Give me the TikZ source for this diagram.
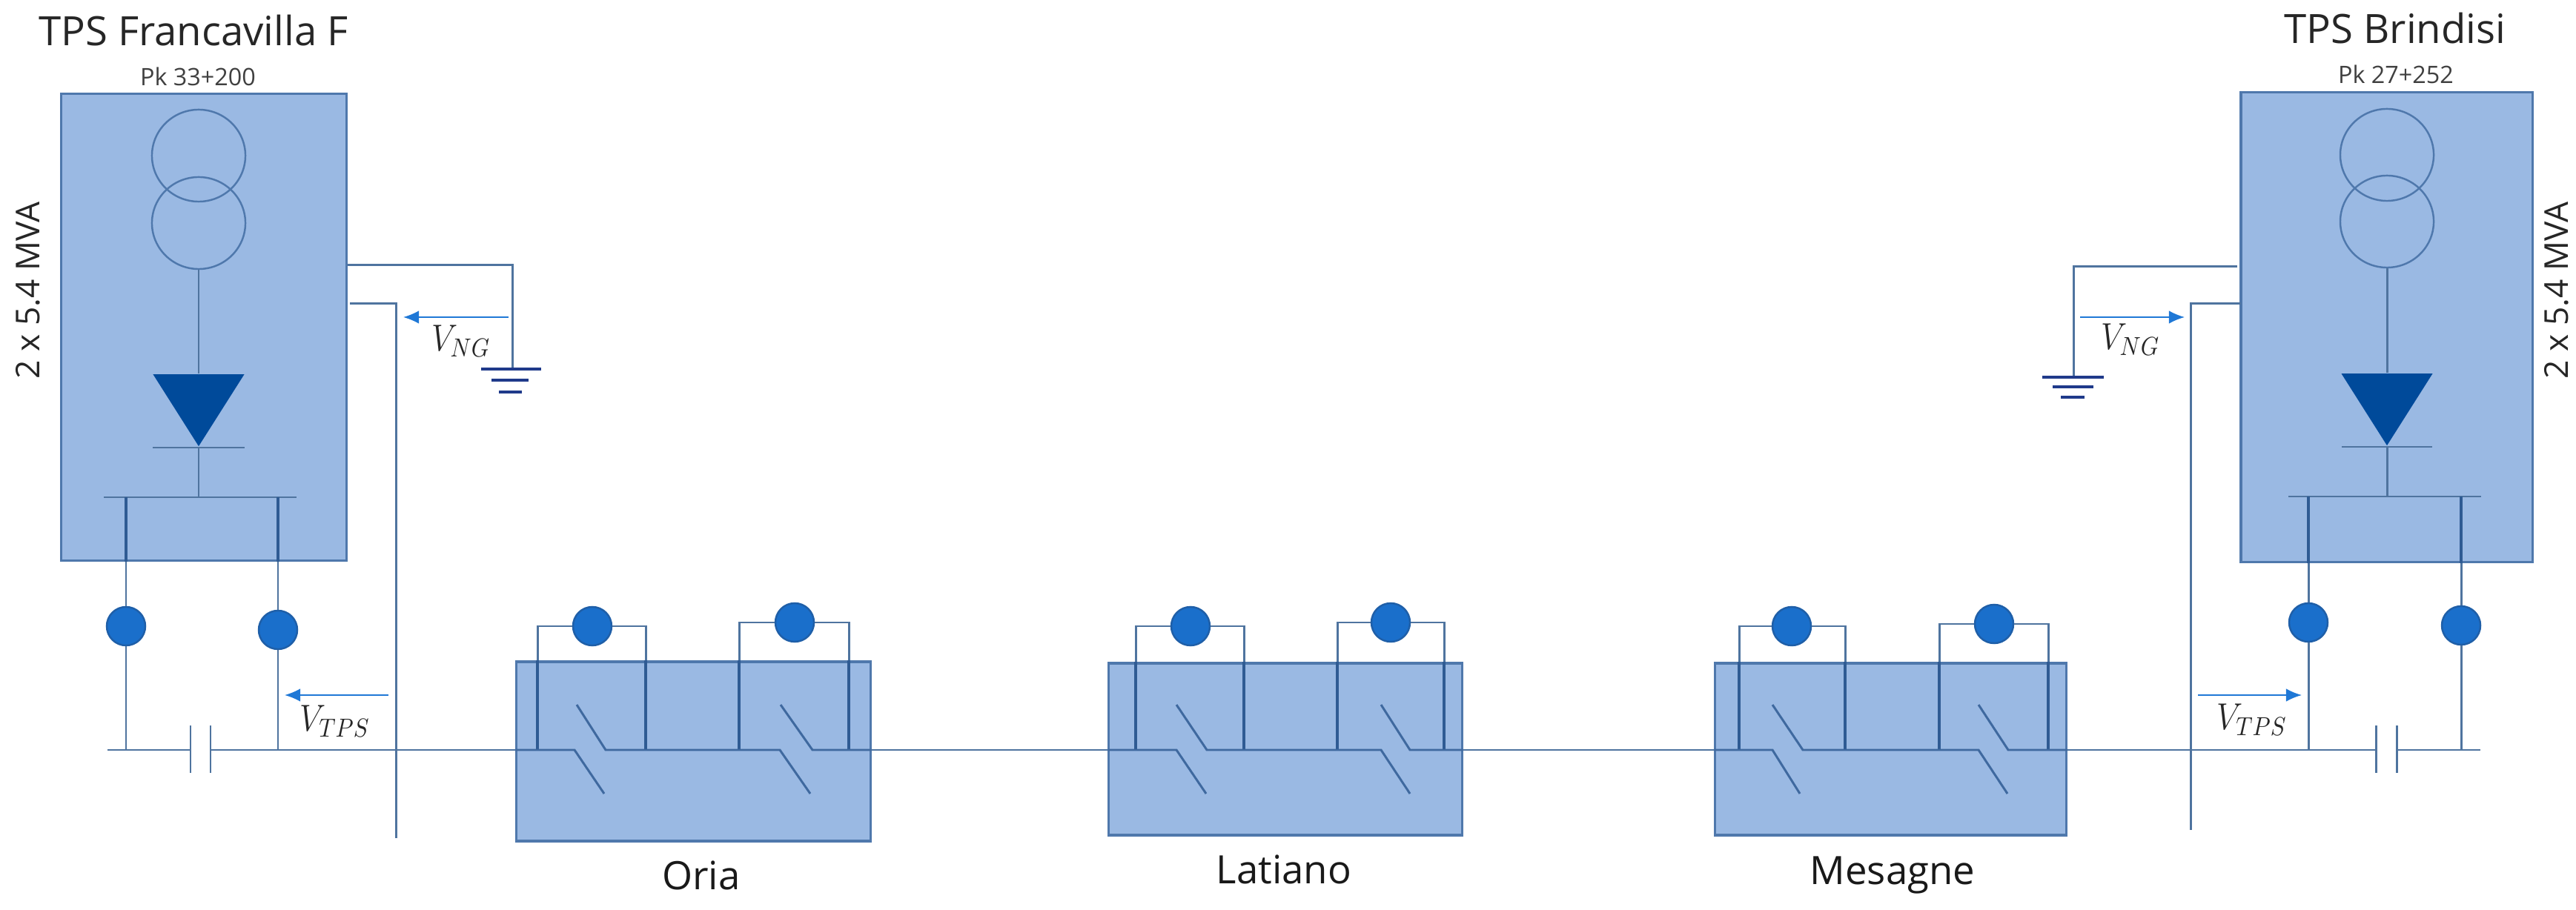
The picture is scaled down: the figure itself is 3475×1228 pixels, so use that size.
\documentclass[tikz,border=0pt]{standalone}
\usepackage{amsmath}
\usepackage{fontspec}
\setmainfont{Open Sans}
\usetikzlibrary{shapes.geometric}
\usetikzlibrary{positioning}
\usetikzlibrary{arrows.meta}
\definecolor{boxfill}{HTML}{9AB9E3}
\definecolor{boxline}{HTML}{4F78AC}
\definecolor{wireline}{HTML}{4F749F}
\definecolor{innerline}{HTML}{2F5B93}
\definecolor{relayfill}{HTML}{1A6FCB}
\definecolor{relayline}{HTML}{1F5FA8}
\definecolor{diodefill}{HTML}{004A9A}
\definecolor{gndline}{HTML}{1F3A8A}
\definecolor{voltline}{HTML}{1F78D6}
\begin{document}
\begin{tikzpicture}[x=0.01cm, y=-0.01cm]
		\tikzset{>=latex}
		\tikzstyle{wire}=[line width=0.85pt, color=wireline]
		\tikzstyle{inwire}=[line width=1.1pt, color=innerline]
		\tikzstyle{switch}=[line width=0.85pt, color=innerline!85!boxfill]
		\tikzstyle{station}=[rectangle, draw=boxline, fill=boxfill, line width=0.9pt, inner sep=0]
		\tikzstyle{winding}=[ellipse, draw=boxline, line width=0.7pt, inner sep=0, minimum width=1.26cm, minimum height=1.24cm]
		\tikzstyle{relay}=[circle, draw=relayline, fill=relayfill, line width=0.7pt, inner sep=0, minimum size=0.52cm]
		\tikzstyle{diode}=[isosceles triangle, isosceles triangle stretches, shape border rotate=-90, fill=diodefill, inner sep=0, minimum width=1.23cm, minimum height=0.97cm, anchor=apex]
		\tikzstyle{gndbar}=[line width=1pt, color=gndline]
		\tikzstyle{volt}=[->, line width=0.55pt, color=voltline, >={Latex[length=6pt,width=5pt]}]
		\tikzstyle{title}=[font=\fontsize{15.5}{18}\selectfont, color=black!85]
		\tikzstyle{place}=[font=\fontsize{15}{18}\selectfont, color=black!90]
		\tikzstyle{pk}=[font=\fontsize{9.2}{11}\selectfont, color=black!75]
		\tikzstyle{power}=[font=\fontsize{12.6}{15}\selectfont, color=black!85, rotate=90]
		\tikzstyle{vlabel}=[font=\fontsize{14.4}{16}\selectfont, color=black!85, xscale=0.88]
		\useasboundingbox (0,0) rectangle (3475,1228);

		\node[station, minimum width=3.84cm, minimum height=6.29cm] (ltps) at (275,441.5) {};
		\node[title] (ltitle) at (261,41) {TPS Francavilla F};
		\node[pk] (lpk) at (267,103) {Pk 33+200};
		\node[power] (lpower) at (38,392) {2 x 5.4 MVA};
		\node[winding] (1lwinding) at (268,210) {};
		\node[winding] (2lwinding) at (268,301) {};
		\node[diode] (ldiode) at (268,604) {};
		\coordinate (lbus) at (268,671);
		\draw[wire] (2lwinding.south) -- (ldiode.lower side);
		\draw[wire] (ldiode.apex) ++(-62,0) -- ++(124,0);
		\draw[wire] (ldiode.apex) -- (lbus);
		\draw[wire] (lbus) ++(-128,0) -- ++(260,0);

		\node[relay] (1lrelay) at (170,845) {};
		\node[relay] (2lrelay) at (375,850) {};
		\coordinate (1lfoot) at (170,1012);
		\coordinate (2lfoot) at (375,1012);
		\draw[wire] (1lrelay.north) -- (1lrelay |- ltps.south);
		\draw[wire] (2lrelay.north) -- (2lrelay |- ltps.south);
		\draw[inwire] (1lrelay |- ltps.south) -- (1lrelay |- lbus);
		\draw[inwire] (2lrelay |- ltps.south) -- (2lrelay |- lbus);
		\draw[wire] (1lrelay) -- (1lfoot);
		\draw[wire] (2lrelay) -- (2lfoot);
		\coordinate (lstart) at (145,1012);
		\coordinate (1lplate) at (257,1012);
		\coordinate (2lplate) at (284,1012);
		\draw[wire] (lstart) -- (1lplate);
		\draw[wire] (1lplate) ++(0,-33) -- ++(0,64);
		\draw[wire] (2lplate) ++(0,-33) -- ++(0,64);

		\coordinate (lneg) at (691,498);
		\draw[wire] (ltps.east |- 0,358) -| (lneg);
		\draw[gndbar] (lneg) ++(-42,0) -- ++(81,0);
		\draw[gndbar] (lneg) ++(-28,15) -- ++(50,0);
		\draw[gndbar] (lneg) ++(-18,31) -- ++(31,0);
		\coordinate (lpos) at (472,410);
		\coordinate (lrail) at (534,1131);
		\draw[wire] (lpos) -| (lrail);
		\coordinate (1lvolt) at (686,428);
		\coordinate (2lvolt) at (544,428);
		\coordinate (3lvolt) at (524,938);
		\coordinate (4lvolt) at (384,938);
		\draw[volt] (1lvolt) -- (2lvolt);
		\draw[volt] (3lvolt) -- (4lvolt);
		\node[vlabel] (lng) at (622,460) {$V_{NG}$};
		\node[vlabel] (ltpsv) at (452,973) {$V_{TPS}$};

		\node[station, minimum width=4.77cm, minimum height=2.42cm] (oria) at (935.5,1014) {};
		\node[place] (orialabel) at (946,1181) {Oria};
		\node[relay] (1orelay) at (799,845) {};
		\node[relay] (2orelay) at (1072,840) {};
		\coordinate (1oa) at (775,1012);
		\coordinate (1ob) at (815,1071);
		\coordinate (1oc) at (778,951);
		\coordinate (1od) at (817,1012);
		\coordinate (2oa) at (1052,1012);
		\coordinate (2ob) at (1093,1071);
		\coordinate (2oc) at (1053,951);
		\coordinate (2od) at (1096,1012);
		\coordinate (1of) at (725,1012);
		\coordinate (1og) at (871,1012);
		\coordinate (2of) at (997,1012);
		\coordinate (2og) at (1145,1012);
		\draw[wire] (1of |- oria.north) |- (1orelay.west);
		\draw[wire] (1og |- oria.north) |- (1orelay.east);
		\draw[wire] (2of |- oria.north) |- (2orelay.west);
		\draw[wire] (2og |- oria.north) |- (2orelay.east);
		\draw[inwire] (1of) -- (1of |- oria.north);
		\draw[inwire] (1og) -- (1og |- oria.north);
		\draw[inwire] (2of) -- (2of |- oria.north);
		\draw[inwire] (2og) -- (2og |- oria.north);
		\draw[wire] (2lplate) -- (oria.west |- 1oa);
		\draw[switch] (oria.west |- 1oa) -- (1oa) -- (1ob);
		\draw[switch] (1oc) -- (1od) -- (2oa) -- (2ob);
		\draw[switch] (2oc) -- (2od) -- (oria.east |- 2od);

		\node[station, minimum width=4.76cm, minimum height=2.32cm] (latiano) at (1734,1011) {};
		\node[place] (latianolabel) at (1732,1173) {Latiano};
		\node[relay] (1trelay) at (1606,845) {};
		\node[relay] (2trelay) at (1876,840) {};
		\coordinate (1ta) at (1587,1012);
		\coordinate (1tb) at (1627,1071);
		\coordinate (1tc) at (1587,951);
		\coordinate (1td) at (1628,1012);
		\coordinate (2ta) at (1863,1012);
		\coordinate (2tb) at (1902,1071);
		\coordinate (2tc) at (1863,951);
		\coordinate (2td) at (1902,1012);
		\coordinate (1tf) at (1532,1012);
		\coordinate (1tg) at (1678,1012);
		\coordinate (2tf) at (1804,1012);
		\coordinate (2tg) at (1948,1012);
		\draw[wire] (1tf |- latiano.north) |- (1trelay.west);
		\draw[wire] (1tg |- latiano.north) |- (1trelay.east);
		\draw[wire] (2tf |- latiano.north) |- (2trelay.west);
		\draw[wire] (2tg |- latiano.north) |- (2trelay.east);
		\draw[inwire] (1tf) -- (1tf |- latiano.north);
		\draw[inwire] (1tg) -- (1tg |- latiano.north);
		\draw[inwire] (2tf) -- (2tf |- latiano.north);
		\draw[inwire] (2tg) -- (2tg |- latiano.north);
		\draw[wire] (oria.east |- 2od) -- (latiano.west |- 1ta);
		\draw[switch] (latiano.west |- 1ta) -- (1ta) -- (1tb);
		\draw[switch] (1tc) -- (1td) -- (2ta) -- (2tb);
		\draw[switch] (2tc) -- (2td) -- (latiano.east |- 2td);

		\node[station, minimum width=4.73cm, minimum height=2.32cm] (mesagne) at (2550.5,1011) {};
		\node[place] (mesagnelabel) at (2553,1181) {Mesagne};
		\node[relay] (1mrelay) at (2417,845) {};
		\node[relay] (2mrelay) at (2690,842) {};
		\coordinate (1ma) at (2391,1012);
		\coordinate (1mb) at (2428,1071);
		\coordinate (1mc) at (2391,951);
		\coordinate (1md) at (2432,1012);
		\coordinate (2ma) at (2669,1012);
		\coordinate (2mb) at (2708,1071);
		\coordinate (2mc) at (2669,951);
		\coordinate (2md) at (2709,1012);
		\coordinate (1mf) at (2346,1012);
		\coordinate (1mg) at (2489,1012);
		\coordinate (2mf) at (2616,1012);
		\coordinate (2mg) at (2763,1012);
		\draw[wire] (1mf |- mesagne.north) |- (1mrelay.west);
		\draw[wire] (1mg |- mesagne.north) |- (1mrelay.east);
		\draw[wire] (2mf |- mesagne.north) |- (2mrelay.west);
		\draw[wire] (2mg |- mesagne.north) |- (2mrelay.east);
		\draw[inwire] (1mf) -- (1mf |- mesagne.north);
		\draw[inwire] (1mg) -- (1mg |- mesagne.north);
		\draw[inwire] (2mf) -- (2mf |- mesagne.north);
		\draw[inwire] (2mg) -- (2mg |- mesagne.north);
		\draw[wire] (latiano.east |- 2td) -- (mesagne.west |- 1ma);
		\draw[switch] (mesagne.west |- 1ma) -- (1ma) -- (1mb);
		\draw[switch] (1mc) -- (1md) -- (2ma) -- (2mb);
		\draw[switch] (2mc) -- (2md) -- (mesagne.east |- 2md);

		\node[station, minimum width=3.93cm, minimum height=6.33cm] (rtps) at (3219.5,441.5) {};
		\node[title] (rtitle) at (3231,38) {TPS Brindisi};
		\node[pk] (rpk) at (3232,100) {Pk 27+252};
		\node[power] (rpower) at (3449,392) {2 x 5.4 MVA};
		\node[winding] (1rwinding) at (3220,209) {};
		\node[winding] (2rwinding) at (3220,299) {};
		\node[diode] (rdiode) at (3220,603) {};
		\coordinate (rbus) at (3220,670);
		\draw[wire] (2rwinding.south) -- (rdiode.lower side);
		\draw[wire] (rdiode.apex) ++(-61,0) -- ++(122,0);
		\draw[wire] (rdiode.apex) -- (rbus);
		\draw[wire] (rbus) ++(-133,0) -- ++(260,0);

		\node[relay] (1rrelay) at (3114,840) {};
		\node[relay] (2rrelay) at (3320,844) {};
		\coordinate (1rfoot) at (3114,1012);
		\coordinate (2rfoot) at (3320,1012);
		\draw[wire] (1rrelay.north) -- (1rrelay |- rtps.south);
		\draw[wire] (2rrelay.north) -- (2rrelay |- rtps.south);
		\draw[inwire] (1rrelay |- rtps.south) -- (1rrelay |- rbus);
		\draw[inwire] (2rrelay |- rtps.south) -- (2rrelay |- rbus);
		\draw[wire] (1rrelay) -- (1rfoot);
		\draw[wire] (2rrelay) -- (2rfoot);
		\coordinate (rend) at (3346,1012);
		\coordinate (1rplate) at (3205,1012);
		\coordinate (2rplate) at (3233,1012);
		\draw[wire] (mesagne.east |- 2md) -- (1rplate);
		\draw[wire] (2rplate) -- (rend);
		\draw[wire] (1rplate) ++(0,-33) -- ++(0,64);
		\draw[wire] (2rplate) ++(0,-33) -- ++(0,64);

		\coordinate (rneg) at (2797,509);
		\coordinate (rnegend) at (3018,360);
		\draw[wire] (rnegend) -| (rneg);
		\draw[gndbar] (rneg) ++(-42,0) -- ++(83,0);
		\draw[gndbar] (rneg) ++(-28,13) -- ++(55,0);
		\draw[gndbar] (rneg) ++(-17,27) -- ++(32,0);
		\coordinate (rpos) at (3023,410);
		\coordinate (rrail) at (2955,1120);
		\draw[wire] (rpos) -| (rrail);
		\coordinate (1rvolt) at (2806,428);
		\coordinate (2rvolt) at (2947,428);
		\coordinate (3rvolt) at (2965,938);
		\coordinate (4rvolt) at (3105,938);
		\draw[volt] (1rvolt) -- (2rvolt);
		\draw[volt] (3rvolt) -- (4rvolt);
		\node[vlabel] (rng) at (2874,458) {$V_{NG}$};
		\node[vlabel] (rtpsv) at (3038,971) {$V_{TPS}$};
\end{tikzpicture}
\end{document}
